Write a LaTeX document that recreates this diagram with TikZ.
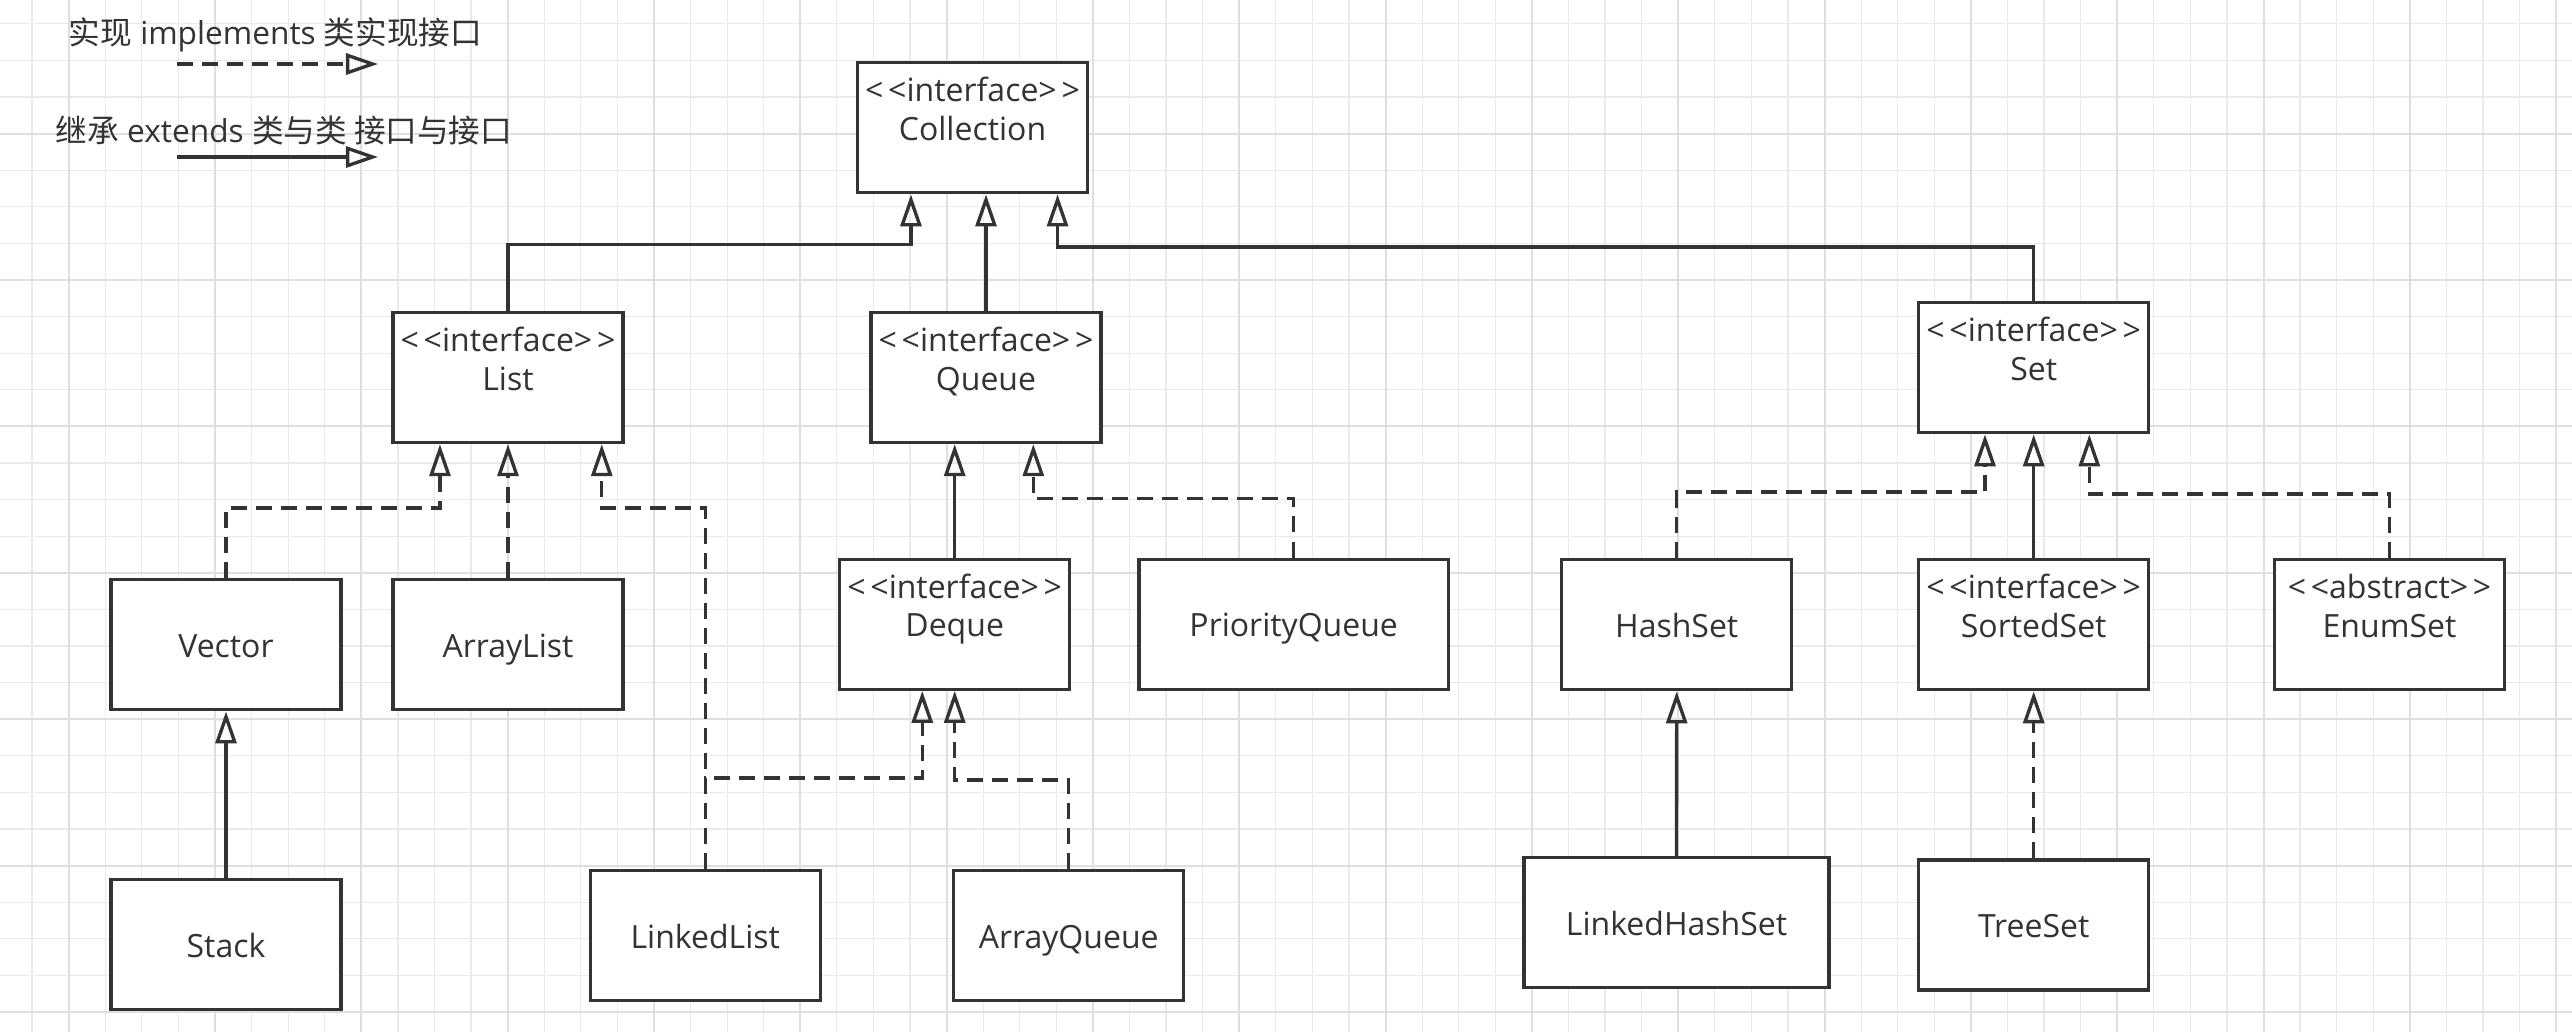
\documentclass[tikz,border=0pt]{standalone}
\usepackage{fontspec}
\setmainfont{Open Sans}
\newfontfamily\cjk{Noto Sans CJK SC}
\usetikzlibrary{arrows.meta}

\definecolor{ink}{HTML}{333333}
\definecolor{minorgray}{HTML}{EAEAEA}
\definecolor{majorgray}{HTML}{DFDFDF}
\newcommand{\stereo}[1]{<\kern0.15em<#1>\kern0.15em>}

\tikzset{
  minorline/.style={minorgray, line width=0.35pt},
  majorline/.style={majorgray, line width=0.6pt},
  box/.style={draw=ink, line width=0.95pt, fill=white, text=ink, inner sep=0pt,
    minimum width=2.3cm, minimum height=1.3cm, text height=0.72em, text depth=0pt},
  stereolabel/.style={text=ink, inner sep=0pt, yshift=0.385cm, text height=0.72em, text depth=0pt},
  iface/.style={box, label={[stereolabel]center:\stereo{interface}}},
  legend/.style={text=ink, inner sep=0pt, font=\fontsize{9}{11}\selectfont},
  ext/.style={draw=ink, line width=0.95pt, -{Triangle[open, length=0.32cm, width=0.21cm]}},
  impl/.style={ext, dash pattern=on 0.16cm off 0.09cm}
}

\begin{document}
\begin{tikzpicture}[x=0.01cm, y=-0.01cm, font=\fontsize{9.1}{11}\selectfont]

  % Canvas and grid
  \fill[white] (0,0) rectangle (2572,1032);
  \useasboundingbox (0,0) rectangle (2572,1032);
  \begin{scope}
    \clip (0,0) rectangle (2572,1032);
    \foreach \i in {0,...,70} \draw[minorline] ({32.1+36.58*\i},0) -- ++(0,1032);
    \foreach \j in {0,...,27} \draw[minorline] (0,{23.8+36.6*\j}) -- ++(2572,0);
    \foreach \i in {0,...,17} \draw[majorline] ({68.7+146.33*\i},0) -- ++(0,1032);
    \foreach \j in {0,...,6} \draw[majorline] (0,{133.6+146.4*\j}) -- ++(2572,0);
  \end{scope}

  % Legend
  \node[legend] (impltext) at (275.5,35) {{\cjk 实现} implements {\cjk 类实现接口}};
  \coordinate (implstart) at (177,64);
  \coordinate (implend) at (378,64);
  \draw[impl] (implstart) -- (implend);
  \node[legend] (exttext) at (284,130) {{\cjk 继承} extends {\cjk 类与类 接口与接口}};
  \coordinate (extstart) at (177,157);
  \coordinate (extend) at (378,157);
  \draw[ext] (extstart) -- (extend);

  % Interfaces
  \node[iface] (collection) at (972.5,127.7) {Collection};
  \node[iface] (list) at (508,377.5) {List};
  \node[iface] (queue) at (986,377.5) {Queue};
  \node[iface] (set) at (2033.7,367.7) {Set};
  \node[iface] (deque) at (954.7,624.2) {Deque};
  \node[iface] (sortedset) at (2033.7,624.7) {SortedSet};

  % Classes
  \node[box] (vector) at (226,644.7) {Vector};
  \node[box] (arraylist) at (508,644.7) {ArrayList};
  \node[box] (stack) at (226,944.5) {Stack};
  \node[box] (linkedlist) at (705.3,935.7) {LinkedList};
  \node[box] (arrayqueue) at (1068.7,935.7) {ArrayQueue};
  \node[box, minimum width=3.09cm] (priorityqueue) at (1293.7,624.2) {PriorityQueue};
  \node[box] (hashset) at (1676.7,624.7) {HashSet};
  \node[box, label={[stereolabel]center:\stereo{abstract}}] (enumset) at (2389.5,624.7) {EnumSet};
  \node[box, minimum width=3.05cm] (linkedhashset) at (1676.5,922.5) {LinkedHashSet};
  \node[box] (treeset) at (2033.7,925) {TreeSet};

  % Collection
  \draw[ext] (list.north) -- ++(0,-66) -| ([xshift=-0.615cm]collection.south);
  \draw[ext] (queue.north) -- (queue.north |- collection.south);
  \draw[ext] (set.north) -- ++(0,-54) -| ([xshift=0.85cm]collection.south);

  % List
  \draw[impl] (vector.north) -- ++(0,-70) -| ([xshift=-0.68cm]list.south);
  \draw[impl] (arraylist.north) -- (list.south);
  \draw[impl] (linkedlist.north) -- ++(0,-361) -| ([xshift=0.937cm]list.south);
  \draw[ext] (stack.north) -- (vector.south);

  % Queue
  \draw[ext] (deque.north) -- (deque.north |- queue.south);
  \draw[impl] (priorityqueue.north) -- ++(0,-59) -| ([xshift=0.473cm]queue.south);
  \draw[impl] (linkedlist.north) -- ++(0,-91) -| ([xshift=-0.324cm]deque.south);
  \draw[impl] (arrayqueue.north) -- ++(0,-89) -| (deque.south);

  % Set
  \draw[impl] (hashset.north) -- ++(0,-66) -| ([xshift=-0.487cm]set.south);
  \draw[ext] (sortedset.north) -- (set.south);
  \draw[impl] (enumset.north) -- ++(0,-64) -| ([xshift=0.556cm]set.south);
  \draw[ext] (linkedhashset.north) -- (hashset.south);
  \draw[impl] (treeset.north) -- (sortedset.south);
\end{tikzpicture}
\end{document}
